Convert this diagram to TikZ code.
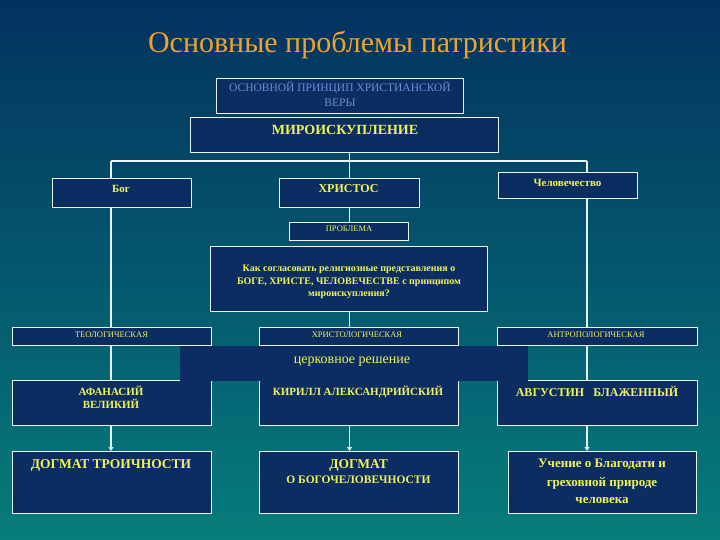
\documentclass[tikz,border=0pt]{standalone}
\usepackage{fontspec}
\setmainfont{Liberation Serif}
\usetikzlibrary{arrows.meta}
\definecolor{bgtop}{HTML}{03325F}
\definecolor{bgbot}{HTML}{067C7C}
\definecolor{boxfill}{HTML}{0B2D62}
\definecolor{boxline}{HTML}{E8F6F6}
\definecolor{txtyel}{HTML}{F0F45A}
\definecolor{titleor}{HTML}{F2A22C}
\definecolor{txtblue}{HTML}{6E8CD8}
\newcommand{\fsz}[1]{\fontsize{#1}{#1}\selectfont}
\begin{document}
\begin{tikzpicture}[x=1pt,y=-1pt,
  box/.style={draw=boxline,line width=1.2pt,fill=boxfill,inner sep=0pt,anchor=north west},
  conn/.style={draw=boxline,line width=1.1pt},
  arr/.style={conn,-{Triangle[width=5pt,length=4pt]}},
  yt/.style={text=txtyel,anchor=base,inner sep=0pt},
  ybf/.style={yt,font=\bfseries\fsz{#1}},
  yrf/.style={yt,font=\fsz{#1}}]
% background
\shade[top color=bgtop,bottom color=bgbot] (0,0) rectangle (720,540);
\useasboundingbox (0,0) rectangle (720,540);
% title
\node[anchor=base,inner sep=0pt,text=titleor,font=\fsz{30}] (title) at (357.5,53) {Основные проблемы патристики};
% coordinates for vertical connector lines
\coordinate (cl) at (111,161);
\coordinate (cm) at (349.5,161);
\coordinate (cr) at (587,161);
% connectors (drawn before boxes)
\draw[conn] (cl) -- (cr);
% boxes
\node[box,minimum width=247pt,minimum height=35pt] (osn) at (216,78) {};
\node[box,minimum width=308pt,minimum height=35pt] (miro) at (190,117) {};
\node[box,minimum width=139pt,minimum height=29pt] (bog) at (52,178) {};
\node[box,minimum width=140pt,minimum height=29pt] (christ) at (279,178) {};
\node[box,minimum width=139pt,minimum height=26pt] (chel) at (498,172) {};
\node[box,minimum width=119pt,minimum height=18pt] (probl) at (289,222) {};
\node[box,minimum width=277pt,minimum height=65pt] (quest) at (210,246) {};
\node[box,minimum width=199pt,minimum height=18pt] (teol) at (12,327) {};
\node[box,minimum width=199pt,minimum height=18pt] (xrist) at (259,327) {};
\node[box,minimum width=200pt,minimum height=18pt] (antr) at (497,327) {};
\node[box,minimum width=199pt,minimum height=45pt] (afan) at (12,380) {};
\node[box,minimum width=199pt,minimum height=45pt] (kir) at (259,380) {};
\node[box,minimum width=200pt,minimum height=45pt] (avg) at (497,380) {};
\node[box,minimum width=199pt,minimum height=62pt] (dtr) at (12,451) {};
\node[box,minimum width=199pt,minimum height=62pt] (dbog) at (259,451) {};
\node[box,minimum width=188pt,minimum height=62pt] (uch) at (508,451) {};
% connectors between boxes
\draw[conn] (miro.south -| cm) -- (christ.north -| cm);
\draw[conn] (cl) -- (bog.north -| cl);
\draw[conn] (cr) -- (chel.north -| cr);
\draw[conn] (bog.south -| cl) -- (teol.north -| cl);
\draw[conn] (chel.south -| cr) -- (antr.north -| cr);
\draw[conn] (christ.south -| cm) -- (probl.north -| cm);
\draw[conn] (quest.south -| cm) -- (xrist.north -| cm);
\draw[conn] (teol.south -| cl) -- (afan.north -| cl);
\draw[conn] (antr.south -| cr) -- (avg.north -| cr);
\draw[arr] (afan.south -| cl) -- (dtr.north -| cl);
\draw[arr] (kir.south -| cm) -- (dbog.north -| cm);
\draw[arr] (avg.south -| cr) -- (uch.north -| cr);
% band
\fill[boxfill] (180,345.5) rectangle (528,380.8);
\node[yrf=14] (band) at (352,363) {церковное решение};
% texts
\node[anchor=base,inner sep=0pt,text=txtblue,font=\fsz{11.5}] (osn1) at (340,92) {ОСНОВНОЙ ПРИНЦИП ХРИСТИАНСКОЙ};
\node[anchor=base,inner sep=0pt,text=txtblue,font=\fsz{11.5}] (osn2) at (340,106.5) {ВЕРЫ};
\node[ybf=14] (miro-t) at (345,135) {МИРОИСКУПЛЕНИЕ};
\node[ybf=11] (bog-t) at (121,193) {Бог};
\node[ybf=12] (christ-t) at (348.5,192.5) {ХРИСТОС};
\node[ybf=11] (chel-t) at (567.5,187) {Человечество};
\node[yrf=8.5] (probl-t) at (349,232) {ПРОБЛЕМА};
\node[ybf=10] (q1) at (349,271.5) {Как согласовать религиозные представления о};
\node[ybf=10] (q2) at (349,284) {БОГЕ, ХРИСТЕ, ЧЕЛОВЕЧЕСТВЕ с принципом};
\node[ybf=10] (q3) at (349,296) {мироискупления?};
\node[yrf=8.5] (teol-t) at (111.5,337) {ТЕОЛОГИЧЕСКАЯ};
\node[yrf=8.5] (xrist-t) at (357,337) {ХРИСТОЛОГИЧЕСКАЯ};
\node[yrf=8.5] (antr-t) at (596,337) {АНТРОПОЛОГИЧЕСКАЯ};
\node[ybf=11] (afan1) at (111,395) {АФАНАСИЙ};
\node[ybf=11] (afan2) at (111,408.5) {ВЕЛИКИЙ};
\node[ybf=11] (kir-t) at (358,395) {КИРИЛЛ АЛЕКСАНДРИЙСКИЙ};
\node[ybf=12] (avg-t) at (597,396) {АВГУСТИН\ \ \ БЛАЖЕННЫЙ};
\node[ybf=13.5] (dtr-t) at (111,468) {ДОГМАТ ТРОИЧНОСТИ};
\node[ybf=13.5] (dbog1) at (358.5,468) {ДОГМАТ};
\node[ybf=11.5] (dbog2) at (358.5,483.5) {О БОГОЧЕЛОВЕЧНОСТИ};
\node[ybf=13] (uch1) at (602,467.5) {Учение о Благодати и};
\node[ybf=13] (uch2) at (602,486) {греховной природе};
\node[ybf=13] (uch3) at (602,503.5) {человека};
\end{tikzpicture}
\end{document}
